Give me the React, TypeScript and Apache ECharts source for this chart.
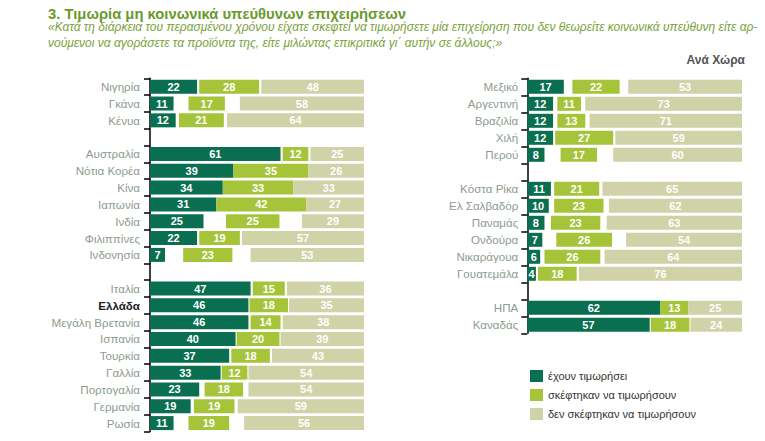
import React, { useEffect, useRef } from "react";
import * as echarts from "echarts";

const leftCountries = [
  "Νιγηρία", "Γκάνα", "Κένυα", "",
  "Αυστραλία", "Νότια Κορέα", "Κίνα", "Ιαπωνία", "Ινδία", "Φιλιππίνες", "Ινδονησία", "",
  "Ιταλία", "Ελλάδα", "Μεγάλη Βρετανία", "Ισπανία", "Τουρκία", "Γαλλία", "Πορτογαλία", "Γερμανία", "Ρωσία",
];
const leftPunished = [22, 11, 12, null, 61, 39, 34, 31, 25, 22, 7, null, 47, 46, 46, 40, 37, 33, 23, 19, 11];
const leftConsidered = [28, 17, 21, null, 12, 35, 33, 42, 25, 19, 23, null, 15, 18, 14, 20, 18, 12, 18, 19, 19];
const leftNot = [48, 58, 64, null, 25, 26, 33, 27, 29, 57, 53, null, 36, 35, 38, 39, 43, 54, 54, 59, 56];

const rightCountries = [
  "Μεξικό", "Αργεντινή", "Βραζιλία", "Χιλή", "Περού", "",
  "Κόστα Ρίκα", "Ελ Σαλβαδόρ", "Παναμάς", "Ονδούρα", "Νικαράγουα", "Γουατεμάλα", "",
  "ΗΠΑ", "Καναδάς",
];
const rightPunished = [17, 12, 12, 12, 8, null, 11, 10, 8, 7, 6, 4, null, 62, 57];
const rightConsidered = [22, 11, 13, 27, 17, null, 21, 23, 23, 26, 26, 18, null, 13, 18];
const rightNot = [53, 73, 71, 59, 60, null, 65, 62, 63, 54, 64, 76, null, 25, 24];

const seriesNames = ["έχουν τιμωρήσει", "σκέφτηκαν να τιμωρήσουν", "δεν σκέφτηκαν να τιμωρήσουν"];
const colors = ["#0a6e50", "#a6c43a", "#d0d2a8"];

const FONT = "'Liberation Sans', Arial, sans-serif";

function buildSeries(idx: number, a: (number | null)[], b: (number | null)[], c: (number | null)[]) {
  const gap = a.map((v, i) => (v == null ? "-" : (100 - (v as number) - (b[i] as number) - (c[i] as number)) / 2));
  const val = (arr: (number | null)[]) => arr.map((v) => (v == null ? "-" : v));
  const label = {
    show: true,
    position: "inside",
    color: "#ffffff",
    fontWeight: "bold",
    fontSize: 11,
    fontFamily: FONT,
    formatter: "{c}",
  };
  const common = {
    type: "bar",
    stack: "s" + idx,
    xAxisIndex: idx,
    yAxisIndex: idx,
    barWidth: 14,
  };
  return [
    { ...common, name: seriesNames[0], data: val(a), itemStyle: { color: colors[0] }, label },
    { ...common, name: "gap1", data: gap, itemStyle: { color: "rgba(0,0,0,0)" }, label: { show: false }, silent: true },
    { ...common, name: seriesNames[1], data: val(b), itemStyle: { color: colors[1] }, label },
    { ...common, name: "gap2", data: gap, itemStyle: { color: "rgba(0,0,0,0)" }, label: { show: false }, silent: true },
    { ...common, name: seriesNames[2], data: val(c), itemStyle: { color: colors[2] }, label },
  ];
}

function yAxis(idx: number, data: string[], margin: number) {
  return {
    type: "category",
    gridIndex: idx,
    inverse: true,
    data,
    axisLine: { show: true, lineStyle: { color: "#000", width: 1.5 } },
    axisTick: { show: true, interval: 0, length: 6, lineStyle: { color: "#000", width: 1.5 } },
    axisLabel: {
      interval: 0,
      margin,
      formatter: (v: string) => (v === "Ελλάδα" ? "{b|" + v + "}" : "{n|" + v + "}"),
      rich: {
        n: { color: "#8d9c8e", fontSize: 11.6, fontFamily: FONT },
        b: { color: "#222222", fontSize: 11.6, fontWeight: "bold", fontFamily: FONT },
      },
    },
    splitLine: { show: false },
  };
}

export default function App() {
  const ref = useRef<HTMLDivElement>(null);
  useEffect(() => {
    if (!ref.current) return;
    const chart = echarts.init(ref.current, undefined, { renderer: "svg" });
    chart.setOption({
      animation: false,
      backgroundColor: "#ffffff",
      grid: [
        { left: 150, top: 78.3, width: 214, height: 353.2 },
        { left: 527.3, top: 78.3, width: 214.7, height: 255 },
      ],
      xAxis: [
        { type: "value", gridIndex: 0, min: 0, max: 100, show: false },
        { type: "value", gridIndex: 1, min: 0, max: 100, show: false },
      ],
      yAxis: [yAxis(0, leftCountries, 10), yAxis(1, rightCountries, 9)],
      legend: {
        data: seriesNames,
        orient: "vertical",
        left: 525,
        top: 365,
        itemWidth: 13,
        itemHeight: 12,
        itemGap: 7,
        icon: "rect",
        selectedMode: false,
        textStyle: { color: "#333333", fontSize: 11, fontFamily: FONT, padding: [0, 0, 0, 0] },
      },
      graphic: [
        {
          type: "text",
          left: 48,
          top: 6,
          style: {
            text: "3. Τιμωρία μη κοινωνικά υπεύθυνων επιχειρήσεων",
            fill: "#6a9a2c",
            font: "bold 14.8px " + FONT,
          },
        },
        {
          type: "text",
          left: 48,
          top: 21,
          style: {
            text: "«Κατά τη διάρκεια του περασμένου χρόνου είχατε σκεφτεί να τιμωρήσετε μία επιχείρηση που δεν θεωρείτε κοινωνικά υπεύθυνη είτε αρ-",
            fill: "#78a23a",
            font: "italic 12px " + FONT,
          },
        },
        {
          type: "text",
          left: 48,
          top: 37,
          style: {
            text: "νούμενοι να αγοράσετε τα προϊόντα της, είτε μιλώντας επικριτικά γι΄ αυτήν σε άλλους;»",
            fill: "#78a23a",
            font: "italic 12px " + FONT,
          },
        },
        {
          type: "text",
          right: 20,
          top: 54,
          style: {
            text: "Ανά Χώρα",
            fill: "#555555",
            font: "bold 12px " + FONT,
          },
        },
      ],
      series: [
        ...buildSeries(0, leftPunished, leftConsidered, leftNot),
        ...buildSeries(1, rightPunished, rightConsidered, rightNot),
      ],
    });
    return () => chart.dispose();
  }, []);
  return <div ref={ref} style={{ position: "fixed", left: 0, top: 0, width: 765, height: 441 }} />;
}
